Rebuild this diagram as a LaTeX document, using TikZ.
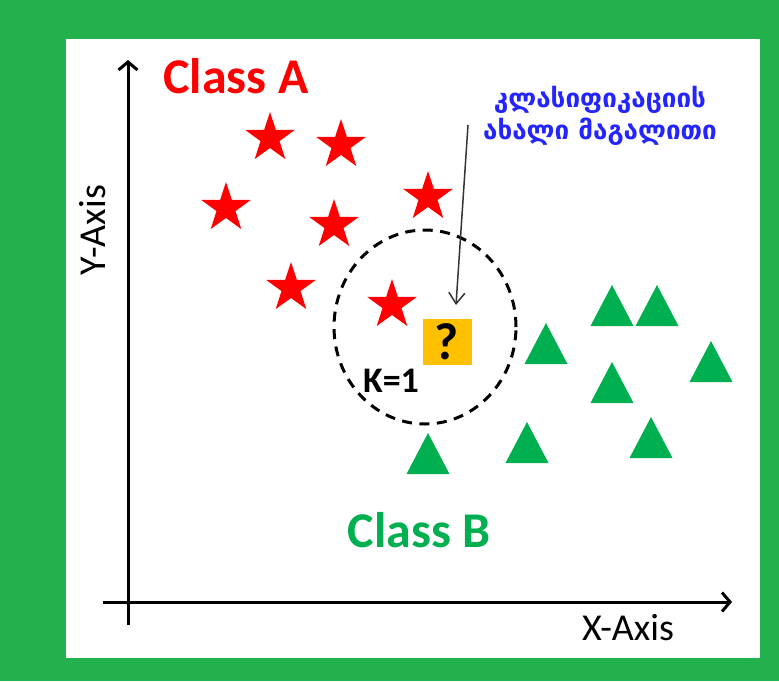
\documentclass[tikz,border=0pt]{standalone}
\usepackage{fontspec}
\setmainfont{Carlito}
\newfontfamily\geofont[Script=Georgian]{DejaVu Sans}
\usepackage{tikz}
\usetikzlibrary{arrows.meta,shapes.geometric}
\definecolor{frame}{HTML}{22B14C}
\definecolor{clsA}{HTML}{FF0000}
\definecolor{clsB}{HTML}{00B050}
\definecolor{qbox}{HTML}{FFC000}
\definecolor{geoblue}{HTML}{2424FF}
\tikzset{
  every picture/.style={line join=round},
  axis/.style={line width=3pt,-{Straight Barb[length=8pt,width=19pt]}},
  starA/.style={star,star points=5,star point ratio=2.6,fill=clsA,
    minimum size=52pt,inner sep=0pt},
  triB/.style={fill=clsB},
  knn/.style={line width=3pt,dash pattern=on 10pt off 7.5pt},
  pointer/.style={black!80,line width=1.5pt,-{Straight Barb[length=11pt,width=16pt]}},
}
\begin{document}
\begin{tikzpicture}[x=1pt,y=-1pt]
\useasboundingbox (0,0) rectangle (779,681);
\fill[frame] (0,0) rectangle (779,681);
\fill[white] (66,39) rectangle (760,658);
% axes
\coordinate (o) at (128,602);
\draw[axis] (128,625) -- (128,60);
\draw[axis] (103,602) -- (732,602);
\node[rotate=90,font=\fontsize{38}{40}\selectfont] (ylab) at (93,230) {Y-Axis};
\node[anchor=base,font=\fontsize{38}{40}\selectfont] (xlab) at (628,640) {X-Axis};
% class A
\foreach \x/\y [count=\i] in {270/138,341/145,226/208,334/225,428/197,291/288,392/305}
  \node[starA] (s\i) at (\x,\y) {};
% class B
\foreach \x/\y in {612/326,657/326,546/364,711/382,612/403,527/463,651/458,428/474}
  \fill[triB] (\x-21.5,\y) -- (\x,\y-41) -- (\x+21.5,\y) -- cycle;
\node[anchor=base,text=clsA,font=\fontsize{50}{52}\selectfont\bfseries] (ca) at (236,93) {Class A};
\node[anchor=base,text=clsB,font=\fontsize{50}{52}\selectfont\bfseries] (cb) at (419,547) {Class B};
% new point
\draw[knn] (425,327) ellipse [x radius=91pt,y radius=97pt];
\node[fill=qbox,minimum width=49pt,minimum height=46pt,inner sep=0pt,
  font=\fontsize{52}{52}\selectfont\bfseries] (q) at (447,342) {?};
\node[anchor=base,font=\fontsize{36}{38}\selectfont\bfseries] (k) at (391,392) {K=1};
\node[text=geoblue,align=center,font=\geofont\bfseries\fontsize{26}{32}\selectfont] (newex) at (600,116)
  {კლასიფიკაციის\\ახალი მაგალითი};
\coordinate (from) at (468,125);
\coordinate (tip) at (456,305);
\draw[pointer] (from) -- (tip);
\end{tikzpicture}
\end{document}
